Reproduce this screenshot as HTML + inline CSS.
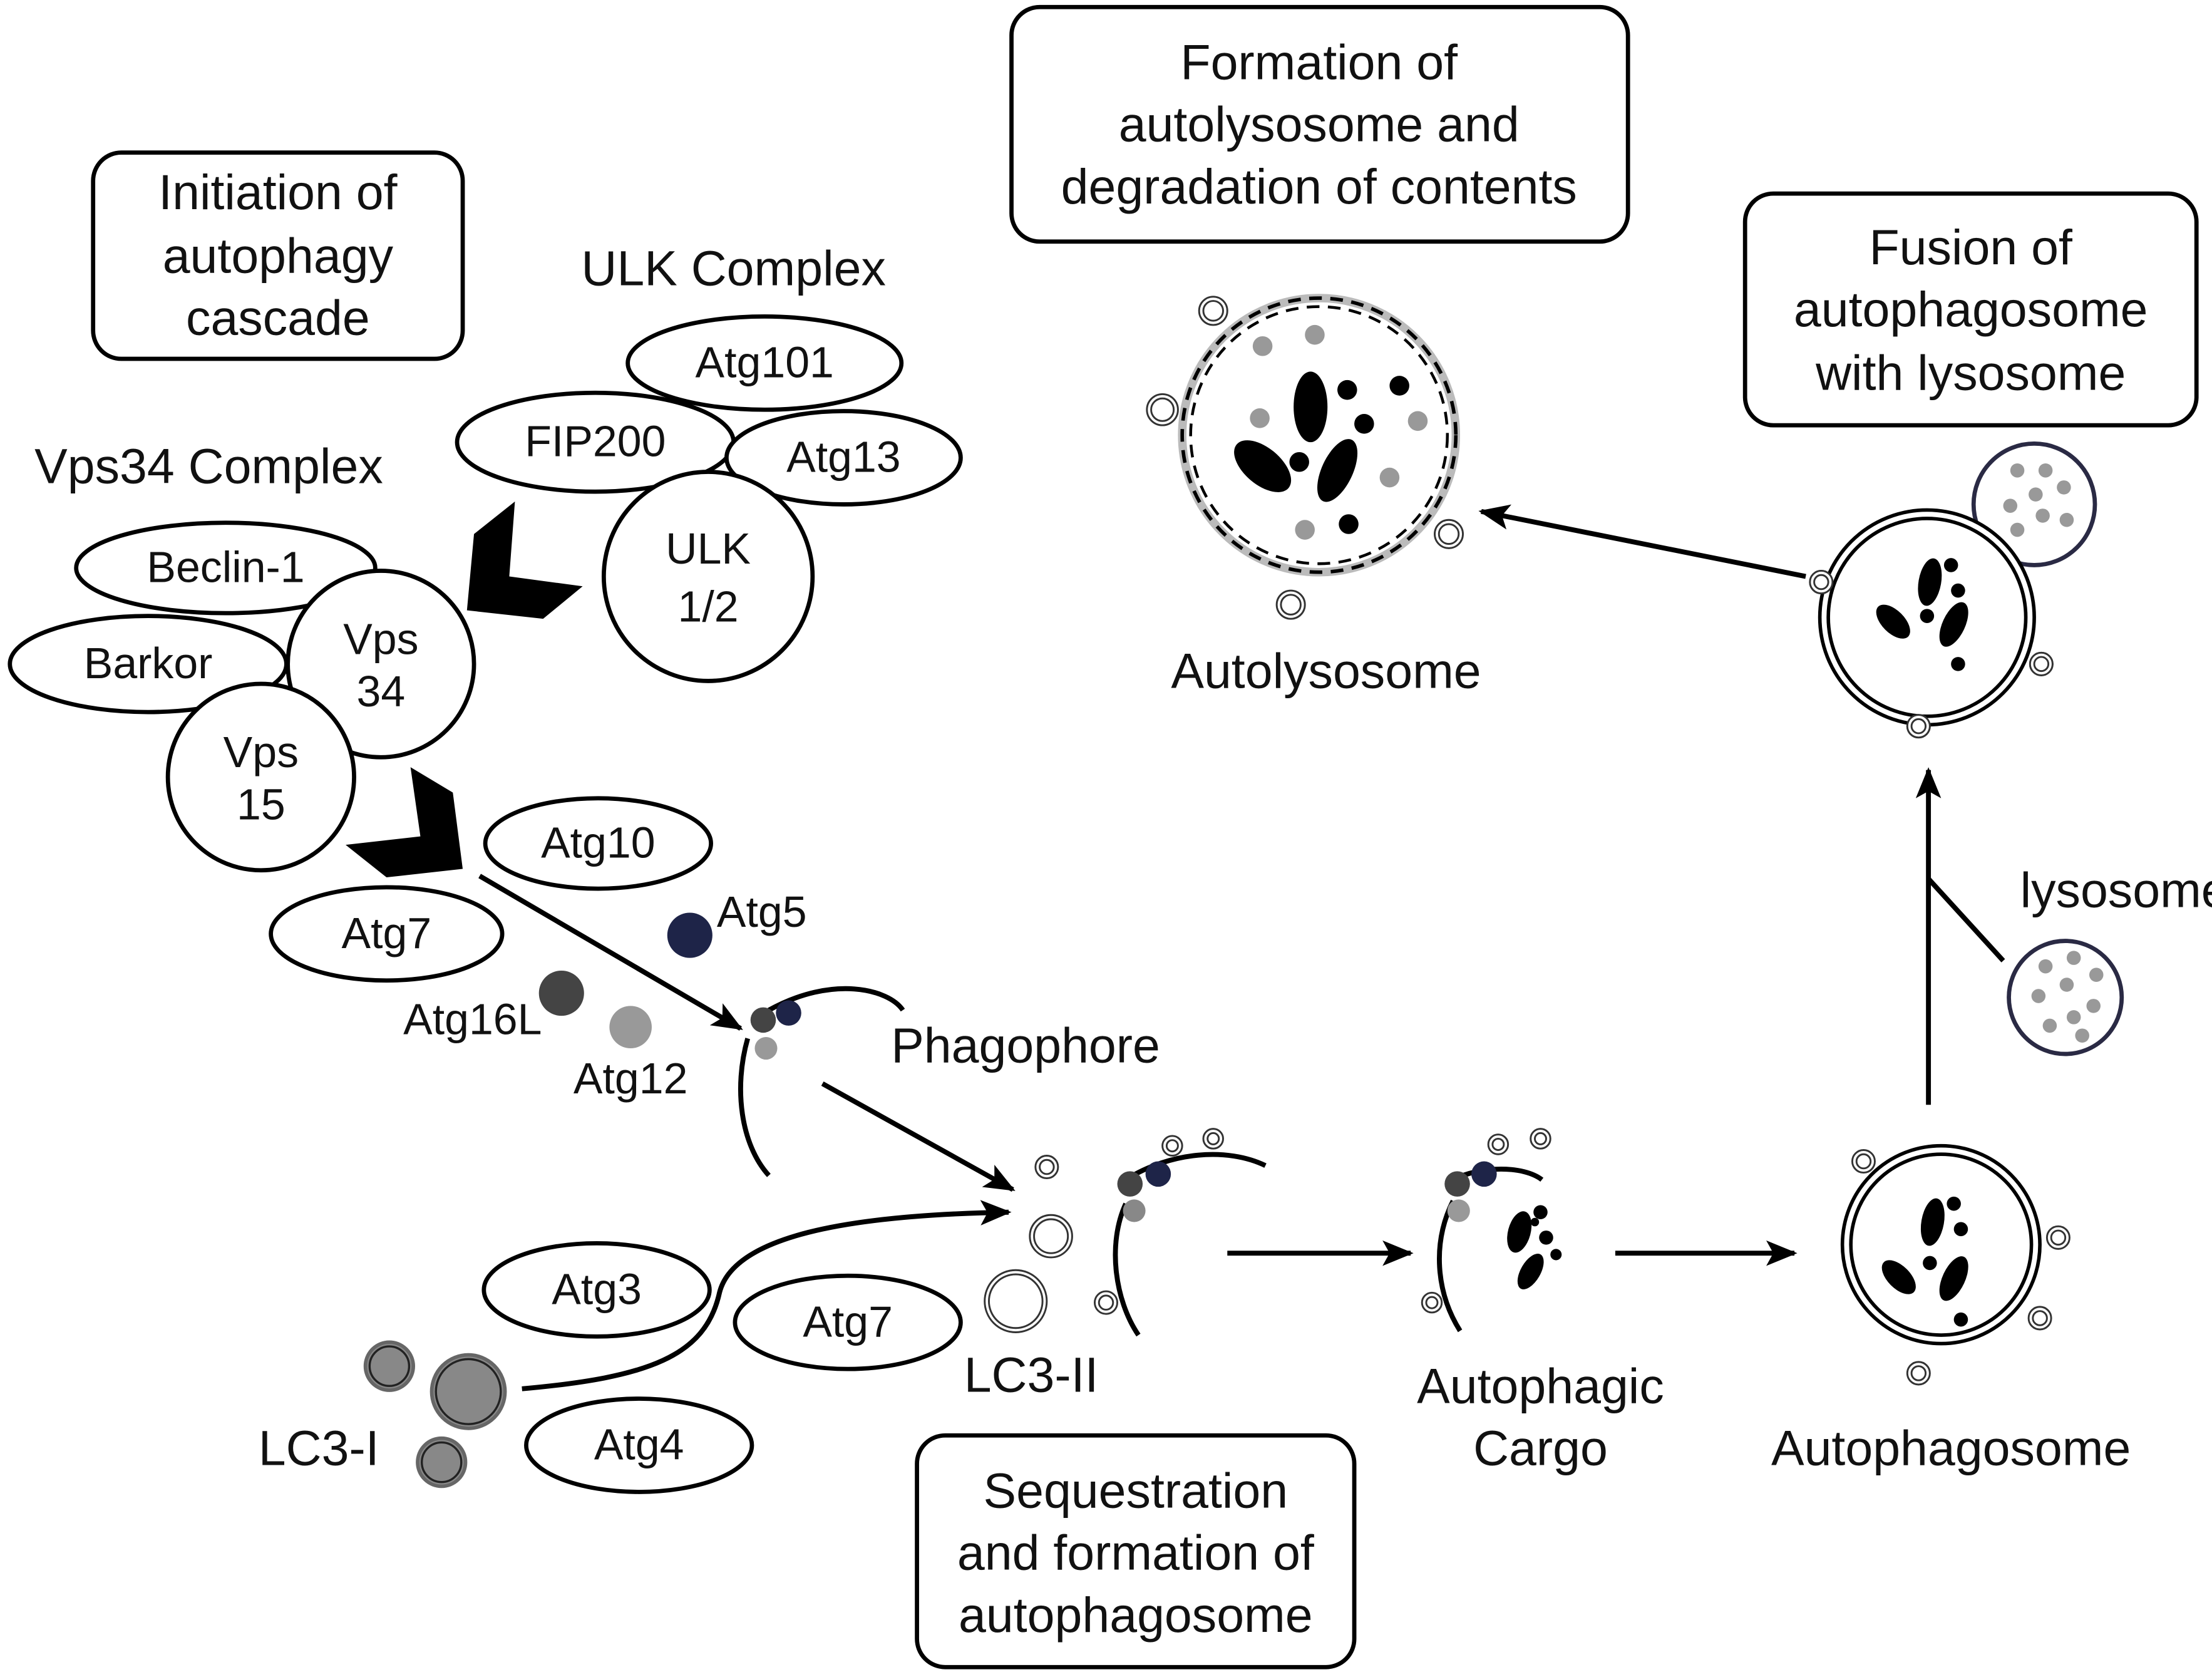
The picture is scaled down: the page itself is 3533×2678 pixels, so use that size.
<!DOCTYPE html>
<html><head><meta charset="utf-8"><style>
html,body{margin:0;padding:0;background:#fff;overflow:hidden}
svg{display:block}
text{font-family:"Liberation Sans",Arial,sans-serif;fill:#111}
</style></head><body>
<svg width="3533" height="2678" viewBox="0 0 1568 1187" preserveAspectRatio="none" xmlns="http://www.w3.org/2000/svg">
<defs>
<marker id="ah2" markerWidth="22" markerHeight="22" refX="20" refY="11" orient="auto" markerUnits="userSpaceOnUse" viewBox="0 0 22 22">
<path d="M0,2 L22,11 L0,20 L5,11 z" fill="#000"/></marker>
</defs>
<g fill="none" stroke="#000" stroke-width="3">
<rect x="66" y="108" width="262" height="146" rx="20"/>
<rect x="717" y="5" width="437" height="166" rx="20"/>
<rect x="1237" y="137" width="320" height="164" rx="20"/>
<rect x="650" y="1016" width="310" height="164" rx="20"/>
</g>
<g font-size="35" text-anchor="middle">
<text x="197" y="148">Initiation of</text><text x="197" y="193">autophagy</text><text x="197" y="237">cascade</text>
<text x="935" y="56">Formation of</text><text x="935" y="100">autolysosome and</text><text x="935" y="144">degradation of contents</text>
<text x="1397" y="187">Fusion of</text><text x="1397" y="231">autophagosome</text><text x="1397" y="276">with lysosome</text>
<text x="805" y="1067">Sequestration</text><text x="805" y="1111">and formation of</text><text x="805" y="1155">autophagosome</text>
<text x="520" y="202">ULK Complex</text>
<text x="148" y="342">Vps34 Complex</text>
<text x="727" y="752">Phagophore</text>
<text x="940" y="487">Autolysosome</text>
<text x="1092" y="993">Autophagic</text><text x="1092" y="1037">Cargo</text>
<text x="1383" y="1037">Autophagosome</text>
<text x="226" y="1037">LC3-I</text>
<text x="731" y="985">LC3-II</text>
<text x="1432" y="642" text-anchor="start">lysosome</text>
</g>
<g fill="#fff" stroke="#000" stroke-width="3">
<ellipse cx="542" cy="257" rx="97" ry="33"/>
<ellipse cx="422" cy="313" rx="98" ry="35"/>
<ellipse cx="598" cy="324" rx="83" ry="33"/>
<circle cx="502" cy="408" r="74"/>
<ellipse cx="160" cy="402" rx="106" ry="32"/>
<ellipse cx="105" cy="470" rx="98" ry="34"/>
<circle cx="270" cy="470" r="66"/>
<circle cx="185" cy="550" r="66"/>
<ellipse cx="424" cy="597" rx="80" ry="32"/>
<ellipse cx="274" cy="661" rx="82" ry="33"/>
<ellipse cx="423" cy="913" rx="80" ry="33"/>
<ellipse cx="601" cy="936" rx="80" ry="33"/>
<ellipse cx="453" cy="1023" rx="80" ry="33"/>
</g>
<g font-size="31" text-anchor="middle">
<text x="542" y="267">Atg101</text><text x="422" y="323">FIP200</text><text x="598" y="334">Atg13</text>
<text x="502" y="399">ULK</text><text x="502" y="440">1/2</text>
<text x="160" y="412">Beclin-1</text><text x="105" y="480">Barkor</text>
<text x="270" y="463">Vps</text><text x="270" y="500">34</text>
<text x="185" y="543">Vps</text><text x="185" y="580">15</text>
<text x="424" y="607">Atg10</text><text x="274" y="671">Atg7</text>
<text x="423" y="923">Atg3</text><text x="601" y="946">Atg7</text><text x="453" y="1033">Atg4</text>
<text x="540" y="656">Atg5</text><text x="335" y="732">Atg16L</text><text x="447" y="774">Atg12</text>
</g>
<!-- chevrons -->
<path d="M365,355 L336,378 L331,432 L385,438 L413,415 L361,408 Z" fill="#000"/>
<path d="M291,543 L321,561 L328,615 L274,621 L245,598 L298,592 Z" fill="#000"/>
<!-- dots -->
<circle cx="489" cy="662" r="16" fill="#1e2448"/>
<circle cx="398" cy="703" r="16" fill="#444"/>
<circle cx="447" cy="727" r="15" fill="#999"/>
<g stroke="#000" stroke-width="3.5" fill="none">
<line x1="340" y1="620" x2="525" y2="728" marker-end="url(#ah2)"/>
<line x1="583" y1="767" x2="718" y2="842" marker-end="url(#ah2)"/>
<path d="M370,983 C460,975 500,960 510,915 C520,875 600,860 715,858" marker-end="url(#ah2)"/>
<line x1="870" y1="887" x2="1000" y2="887" marker-end="url(#ah2)"/>
<line x1="1145" y1="887" x2="1272" y2="887" marker-end="url(#ah2)"/>
<line x1="1367" y1="782" x2="1367" y2="545" marker-end="url(#ah2)"/>
<line x1="1367" y1="622" x2="1420" y2="680"/>
<line x1="1280" y1="408" x2="1050" y2="362" marker-end="url(#ah2)"/>
<path d="M545,715 C590,690 630,700 640,715"/>
<path d="M530,735 C520,770 525,810 545,832"/>
<path d="M798,835 C830,815 870,812 897,825"/>
<path d="M798,852 C785,880 790,920 807,945"/>
<path d="M1030,835 C1050,825 1080,825 1093,835"/>
<path d="M1030,850 C1015,880 1018,915 1035,942"/>
</g>
<g fill="#888" stroke="#666" stroke-width="2.5">
<circle cx="276" cy="967" r="17"/><circle cx="332" cy="985" r="26"/><circle cx="313" cy="1035" r="17"/>
</g>
<g fill="none" stroke="#222" stroke-width="1.5"><circle cx="276" cy="967" r="14"/><circle cx="332" cy="985" r="23"/><circle cx="313" cy="1035" r="14"/></g>
<!-- small double-ring circles -->
<g fill="#fff" stroke="#333" stroke-width="1.3">
<circle cx="742" cy="826" r="8"/><circle cx="745" cy="875" r="15"/><circle cx="720" cy="921" r="22"/><circle cx="784" cy="922" r="8"/>
<circle cx="831" cy="811" r="7"/><circle cx="860" cy="806" r="7"/><circle cx="1062" cy="810" r="7"/><circle cx="1092" cy="806" r="7"/><circle cx="1015" cy="922" r="7"/>
<circle cx="1321" cy="822" r="8"/><circle cx="1459" cy="876" r="8"/><circle cx="1446" cy="933" r="8"/><circle cx="1360" cy="972" r="8"/>
<circle cx="1291" cy="412" r="8"/><circle cx="1447" cy="470" r="8"/><circle cx="1360" cy="514" r="8"/>
<circle cx="860" cy="220" r="10"/><circle cx="824" cy="290" r="11"/><circle cx="1027" cy="378" r="10"/><circle cx="915" cy="428" r="10"/>
</g>
<g fill="none" stroke="#333" stroke-width="1.3">
<circle cx="742" cy="826" r="5"/><circle cx="745" cy="875" r="12"/><circle cx="720" cy="921" r="19"/><circle cx="784" cy="922" r="5"/>
<circle cx="831" cy="811" r="4"/><circle cx="860" cy="806" r="4"/><circle cx="1062" cy="810" r="4"/><circle cx="1092" cy="806" r="4"/><circle cx="1015" cy="922" r="4"/>
<circle cx="1321" cy="822" r="5"/><circle cx="1459" cy="876" r="5"/><circle cx="1446" cy="933" r="5"/><circle cx="1360" cy="972" r="5"/>
<circle cx="1291" cy="412" r="5"/><circle cx="1447" cy="470" r="5"/><circle cx="1360" cy="514" r="5"/>
<circle cx="860" cy="220" r="7"/><circle cx="824" cy="290" r="8"/><circle cx="1027" cy="378" r="7"/><circle cx="915" cy="428" r="7"/>
</g>
<g>
<circle cx="801" cy="838" r="9" fill="#444"/><circle cx="821" cy="831" r="9" fill="#1e2448"/><circle cx="804" cy="857" r="8" fill="#888"/>
<circle cx="541" cy="722" r="9" fill="#444"/><circle cx="559" cy="717" r="9" fill="#1e2448"/><circle cx="543" cy="742" r="8" fill="#999"/>
<circle cx="1033" cy="838" r="9" fill="#444"/><circle cx="1052" cy="831" r="9" fill="#1e2448"/><circle cx="1034" cy="857" r="8" fill="#999"/>
</g>
<g fill="#000">
<ellipse cx="1077" cy="872" rx="8" ry="15" transform="rotate(15 1077 872)"/><circle cx="1092" cy="858" r="5"/><circle cx="1096" cy="876" r="5"/>
<ellipse cx="1085" cy="900" rx="7" ry="14" transform="rotate(30 1085 900)"/><circle cx="1103" cy="888" r="4"/><circle cx="1088" cy="865" r="3"/>
</g>
<g fill="none" stroke="#000" stroke-width="2.5"><circle cx="1376" cy="881" r="70"/><circle cx="1376" cy="881" r="64"/></g>
<g fill="#000">
<ellipse cx="1370" cy="865" rx="8" ry="17" transform="rotate(10 1370 865)"/><circle cx="1385" cy="852" r="5"/><circle cx="1390" cy="870" r="5"/>
<ellipse cx="1346" cy="904" rx="8" ry="15" transform="rotate(-45 1346 904)"/><ellipse cx="1385" cy="905" rx="8" ry="17" transform="rotate(25 1385 905)"/>
<circle cx="1368" cy="894" r="5"/><circle cx="1390" cy="934" r="5"/>
</g>
<circle cx="1464" cy="706" r="40" fill="#fff" stroke="#2a2a44" stroke-width="3"/>
<g fill="#999"><circle cx="1450" cy="684" r="5"/><circle cx="1470" cy="678" r="5"/><circle cx="1486" cy="690" r="5"/><circle cx="1445" cy="705" r="5"/><circle cx="1465" cy="697" r="5"/><circle cx="1484" cy="712" r="5"/><circle cx="1453" cy="726" r="5"/><circle cx="1470" cy="720" r="5"/><circle cx="1476" cy="733" r="5"/></g>
<circle cx="1442" cy="357" r="43" fill="#fff" stroke="#2a2a44" stroke-width="3"/>
<g fill="#999"><circle cx="1430" cy="333" r="5"/><circle cx="1450" cy="333" r="5"/><circle cx="1463" cy="345" r="5"/><circle cx="1443" cy="350" r="5"/><circle cx="1425" cy="358" r="5"/><circle cx="1448" cy="365" r="5"/><circle cx="1465" cy="368" r="5"/><circle cx="1430" cy="375" r="5"/></g>
<circle cx="1366" cy="437" r="76" fill="#fff" stroke="#000" stroke-width="2.5"/><circle cx="1366" cy="437" r="70" fill="none" stroke="#000" stroke-width="2.5"/>
<g fill="#fff" stroke="#333" stroke-width="1.3"><circle cx="1291" cy="412" r="8"/><circle cx="1447" cy="470" r="8"/><circle cx="1360" cy="514" r="8"/></g>
<g fill="none" stroke="#333" stroke-width="1.3"><circle cx="1291" cy="412" r="5"/><circle cx="1447" cy="470" r="5"/><circle cx="1360" cy="514" r="5"/></g>
<g fill="#000">
<ellipse cx="1368" cy="412" rx="8" ry="17" transform="rotate(10 1368 412)"/><circle cx="1383" cy="400" r="5"/><circle cx="1388" cy="418" r="5"/>
<ellipse cx="1342" cy="440" rx="8" ry="15" transform="rotate(-45 1342 440)"/><ellipse cx="1385" cy="442" rx="8" ry="17" transform="rotate(25 1385 442)"/>
<circle cx="1366" cy="436" r="5"/><circle cx="1388" cy="470" r="5"/>
</g>
<circle cx="935" cy="308" r="97" fill="#fff" stroke="#bbb" stroke-width="6"/>
<circle cx="935" cy="308" r="97" fill="none" stroke="#000" stroke-width="2.5" stroke-dasharray="9,6"/>
<circle cx="935" cy="308" r="91" fill="none" stroke="#000" stroke-width="2" stroke-dasharray="9,6"/>
<g fill="#999"><circle cx="895" cy="245" r="7"/><circle cx="932" cy="237" r="7"/><circle cx="893" cy="296" r="7"/><circle cx="1005" cy="298" r="7"/><circle cx="985" cy="338" r="7"/><circle cx="925" cy="375" r="7"/></g>
<g fill="#000">
<ellipse cx="929" cy="288" rx="12" ry="25"/><ellipse cx="895" cy="330" rx="13" ry="24" transform="rotate(-50 895 330)"/>
<ellipse cx="948" cy="333" rx="11" ry="24" transform="rotate(25 948 333)"/>
<circle cx="955" cy="276" r="7"/><circle cx="992" cy="273" r="7"/><circle cx="967" cy="300" r="7"/><circle cx="921" cy="327" r="7"/><circle cx="956" cy="371" r="7"/>
</g>
</svg>
</body></html>
